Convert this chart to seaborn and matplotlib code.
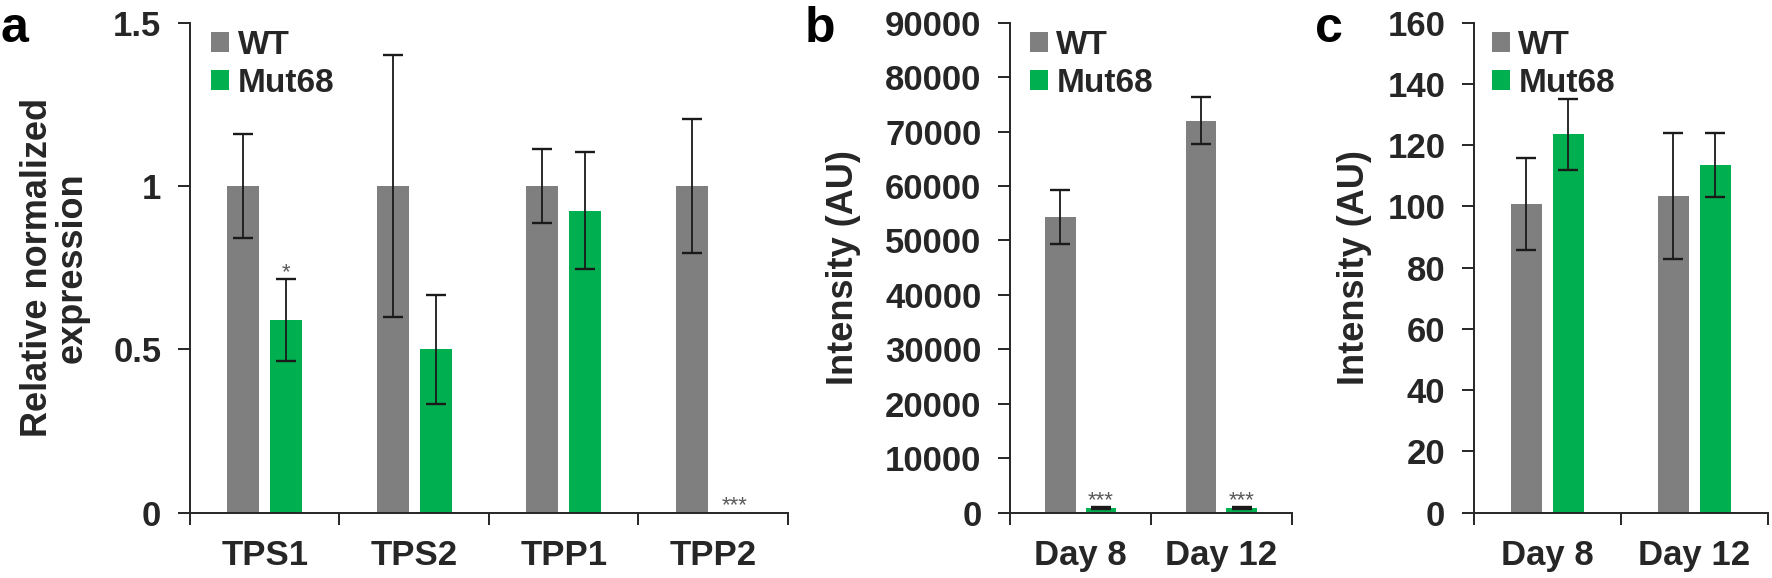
import numpy as np
import pandas as pd
import matplotlib
matplotlib.use("Agg")
import matplotlib.pyplot as plt
from matplotlib.patches import Patch
import seaborn as sns

# ---------------- data ----------------
genes = ["TPS1", "TPS2", "TPP1", "TPP2"]
wt_a = [1.0, 1.0, 1.0, 1.0]
wt_a_err = [0.16, 0.40, 0.112, 0.205]
mut_a = [0.59, 0.50, 0.925, 0.0]
mut_a_err = [0.125, 0.166, 0.18, 0.0]
stars_a = ["*", "", "", "***"]

days = ["Day 8", "Day 12"]
wt_b = [54300, 72000]
wt_b_err = [4900, 4300]
mut_b = [800, 800]
mut_b_err = [200, 200]
stars_b = ["***", "***"]

wt_c = [100.8, 103.5]
wt_c_err = [15.0, 20.5]
mut_c = [123.5, 113.5]
mut_c_err = [11.7, 10.5]
stars_c = ["", ""]

groups = ["WT", "Mut68"]
colors = {"WT": "#7f7f7f", "Mut68": "#00b050"}

sns.set_style("white")
plt.rcParams["font.family"] = ["Liberation Sans", "DejaVu Sans"]
plt.rcParams["font.weight"] = "bold"

DARK = "#262626"
fig = plt.figure(figsize=(17.72, 5.78), dpi=100)

bottom = 0.113
height = 0.8477
axa = fig.add_axes([0.1072, bottom, 0.3375, height])
axb = fig.add_axes([0.5700, bottom, 0.1591, height])
axc = fig.add_axes([0.8318, bottom, 0.1659, height])


def panel(ax, cats, wt, wte, mut, mute, stars, ylim, yticks, yticklabels,
          ylabel, label_x, star_off, leg_x):
    df = pd.DataFrame({
        "cat": list(cats) * 2,
        "grp": ["WT"] * len(cats) + ["Mut68"] * len(cats),
        "val": list(wt) + list(mut),
    })
    sns.barplot(data=df, x="cat", y="val", hue="grp", hue_order=groups,
                palette=colors, errorbar=None, width=0.572, gap=0.248,
                saturation=1, linewidth=0, ax=ax, legend=False)
    errs = [wte, mute]
    for gi, cont in enumerate(ax.containers[:2]):
        for pi, patch in enumerate(cont.patches):
            e = errs[gi][pi]
            xc = patch.get_x() + patch.get_width() / 2
            h = patch.get_height()
            if e > 0:
                ax.errorbar(xc, h, yerr=e, fmt="none", ecolor="#1a1a1a",
                            elinewidth=1.3, capsize=7, capthick=1.7,
                            zorder=5)
            if gi == 1 and stars[pi]:
                ax.text(xc, h + e + star_off, stars[pi], ha="center",
                        va="center", fontsize=16, fontweight="normal",
                        color="#595959", zorder=6)
    n = len(cats)
    ax.set_xlim(-0.5, n - 0.5)
    ax.set_ylim(*ylim)
    ax.set_xticks(np.arange(n + 1) - 0.5)
    ax.set_xticklabels([""] * (n + 1))
    ax.set_xticks(np.arange(n), minor=True)
    ax.set_xticklabels(cats, minor=True)
    ax.tick_params(axis="x", which="major", length=8.6, width=1.4,
                   color=DARK, direction="out", bottom=True)
    ax.tick_params(axis="x", which="minor", length=0, pad=19, labelsize=25,
                   bottom=True)
    ax.set_yticks(yticks)
    ax.set_yticklabels(yticklabels)
    ax.tick_params(axis="y", which="major", length=8.6, width=1.4,
                   color=DARK, direction="out", left=True, pad=12,
                   labelsize=25)
    for lab in ax.get_xticklabels(minor=True) + ax.get_yticklabels():
        lab.set_fontweight("bold")
    for s in ["top", "right"]:
        ax.spines[s].set_visible(False)
    for s in ["left", "bottom"]:
        ax.spines[s].set_linewidth(1.4)
        ax.spines[s].set_color(DARK)
    ax.set_xlabel("")
    ax.set_ylabel(ylabel, fontsize=26, fontweight="bold", linespacing=1.0)
    ax.yaxis.set_label_coords(label_x, 0.5)
    handles = [Patch(facecolor=colors[g], edgecolor="none") for g in groups]
    ax.legend(handles, groups, loc="upper left", bbox_to_anchor=(leg_x, 0.985),
              frameon=False, handlelength=0.55,
              handleheight=0.55, handletextpad=0.25, labelspacing=0.2,
              borderaxespad=0, borderpad=0,
              prop={"weight": "bold", "size": 24})


panel(axa, genes, wt_a, wt_a_err, mut_a, mut_a_err, stars_a,
      (0, 1.5), [0, 0.5, 1, 1.5], ["0", "0.5", "1", "1.5"],
      "Relative normalized\nexpression", -0.167, 0.02, 0.035)
panel(axb, days, wt_b, wt_b_err, mut_b, mut_b_err, stars_b,
      (0, 90000), list(range(0, 90001, 10000)),
      [str(v) for v in range(0, 90001, 10000)],
      "Intensity (AU)", -0.528, 1200, 0.07)
panel(axc, days, wt_c, wt_c_err, mut_c, mut_c_err, stars_c,
      (0, 160), list(range(0, 161, 20)),
      [str(v) for v in range(0, 161, 20)],
      "Intensity (AU)", -0.346, 2, 0.06)

for letter, xpos in [("a", 0.0), ("b", 805 / 1772), ("c", 1315 / 1772)]:
    fig.text(xpos, 1 - 42 / 578, letter, fontsize=36, fontweight="bold",
             ha="left", va="baseline", color="black")

fig.savefig("out.png", dpi=100)
